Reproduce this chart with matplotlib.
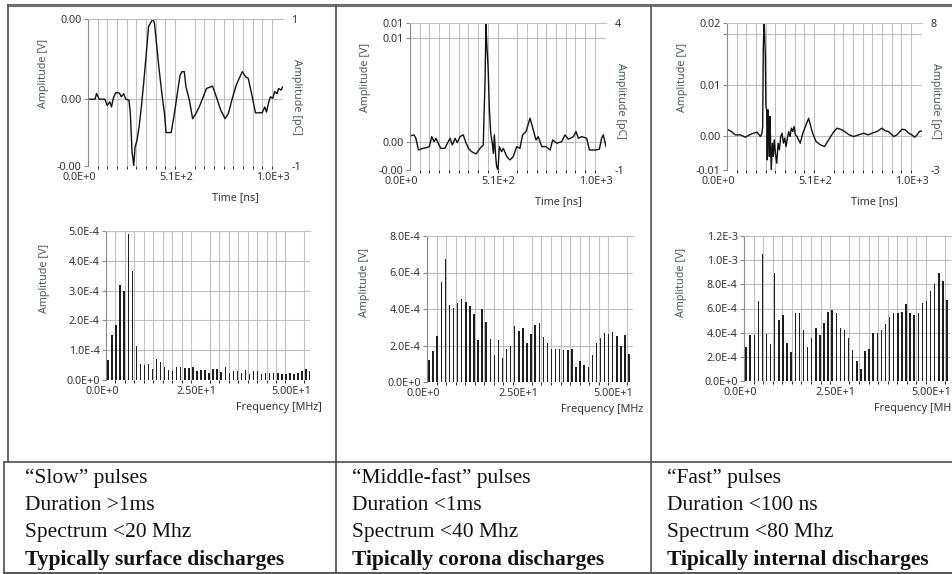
import numpy as np
import matplotlib
matplotlib.use("Agg")
import matplotlib.pyplot as plt
from matplotlib.ticker import MultipleLocator, FixedLocator
from matplotlib.transforms import ScaledTranslation

# ---- time-domain traces (time in ns, amplitude in mV) ----
slow_t = [2, 37, 45, 59, 89, 101, 115, 124, 133, 146, 164, 176, 188, 199, 216, 223, 232, 241,
          248, 258, 269, 281, 293, 307, 319, 328, 342, 350, 359, 373, 391, 403, 411, 438, 455,
          473, 485, 495, 507, 516, 534, 551, 568, 586, 607, 624, 656, 673, 699, 722, 739, 760,
          781, 804, 813, 830, 844, 865, 882, 917, 931, 940, 952, 961, 973, 983, 996, 1004, 1017, 1025]
slow_mv = [0, 0, 0.21, 0, 0, -0.23, -0.10, -0.29, 0.03, 0.24, 0.24, 0.09, 0.21, 0, -0.04, -0.54,
           -1.98, -2.48, -1.79, -1.54, -1.04, -0.29, 0.59, 1.71, 2.71, 2.84, 3.0, 2.84, 2.21, 1.21,
           0.09, -0.54, -1.25, -1.25, -0.54, 0.34, 0.9, 1.03, 1.03, 0.46, -0.04, -0.73, -0.54, -0.29,
           0.09, 0.4, 0.49, 0.15, -0.41, -0.73, -0.54, 0.03, 0.53, 0.9, 1.03, 0.84, 0.78, 0.09, -0.51,
           -0.51, -0.29, -0.48, -0.1, 0.09, 0.03, 0.28, 0.21, 0.4, 0.34, 0.46]

mid_t = [3, 21, 31, 44, 66, 87, 101, 114, 126, 136, 148, 161, 183, 196, 210, 222, 236, 248, 262,
         279, 293, 306, 323, 346, 367, 384, 388, 393, 398, 402, 409, 416, 423, 431, 437, 442, 449,
         454, 461, 468, 480, 489, 507, 524, 541, 559, 576, 590, 608, 629, 646, 660, 672, 690, 713,
         734, 748, 769, 795, 812, 830, 856, 870, 882, 899, 926, 940, 969, 992, 1004, 1013, 1027]
mid_mv = [0.55, 0.65, 0.32, -0.81, -0.65, -0.58, -0.48, 0.48, 0, 0.32, -0.16, -0.65, -0.65, -0.16,
          0.32, -0.32, 0.32, -0.1, 0.48, 0.65, -0.1, -0.65, -0.97, -1.19, -0.65, -0.32, 2.58, 5.65,
          11.45, 9.52, 7.26, 3.06, 0.81, -0.16, -1.13, 0.65, -1.45, -2.42, -2.74, -0.48, -0.97,
          -0.65, -1.45, -1.77, -1.45, -0.48, -0.65, 0.65, 0.97, 2.26, 1.13, 0.16, 0.48, -0.48, -0.48,
          -0.81, 0.16, -0.16, 0, 0.65, 0.23, 0.48, 0.97, 0.32, 0.48, 0.32, -0.81, -0.81, -0.74, 0.32,
          0.65, -0.48]

fast_t = [0, 23, 44, 70, 97, 118, 140, 158, 176, 184, 188, 191, 195, 198, 202, 205, 209, 212, 216,
          219, 223, 226, 230, 233, 239, 244, 249, 255, 262, 269, 276, 283, 290, 297, 304, 311, 318,
          325, 332, 339, 346, 353, 360, 369, 377, 386, 399, 413, 430, 439, 451, 469, 492, 514, 535,
          557, 579, 606, 632, 644, 667, 693, 720, 743, 764, 790, 816, 834, 851, 878, 895, 922, 939,
          957, 974, 988, 1001, 1013, 1027]
fast_mv = [1.25, 0.79, 0.13, 0.13, -0.33, 0.13, 0.46, 0.66, -0.2, 0.46, 1.78, 16.9, 22.8, 20.2,
           15.6, 5.72, 5.07, -4.8, 5.07, 2.43, -4.14, 3.75, -2.17, -6.78, -1.51, -4.14, -0.86, -3.49,
           -5.46, -1.51, -2.83, -0.2, 0.46, -1.51, -0.53, -2.17, -0.53, 0.79, -0.2, 1.45, 0.79, 1.78,
           0.13, -0.2, -0.86, -1.51, 0.46, 1.78, 3.42, 2.1, 0.46, -1.18, -1.84, -2.17, -0.86, 0.46,
           1.45, 1.12, 0.46, 0.13, -0.2, 0.13, 0.46, 0.13, 0.46, 0.79, 1.45, 0.92, 0.79, -0.2, 0.13,
           1.25, 1.12, 0.46, 0.13, -0.33, 0.13, 0.79, 0.92]

# ---- spectra (amplitude in 1e-4 V, one bar per frequency bin) ----
slow_spec = [0.66, 1.5, 1.85, 3.2, 3.0, 4.9, 3.65, 1.15, 0.55, 0.5, 0.53, 0.37, 0.7, 0.6, 0.45,
             0.35, 0.3, 0.45, 0.45, 0.4, 0.4, 0.45, 0.3, 0.35, 0.35, 0.23, 0.38, 0.38, 0.27, 0.42,
             0.23, 0.3, 0.3, 0.23, 0.35, 0.2, 0.3, 0.3, 0.2, 0.25, 0.22, 0.22, 0.25, 0.2, 0.2, 0.23,
             0.2, 0.23, 0.3, 0.38, 0.3]
mid_spec = [1.19, 1.68, 2.52, 5.48, 6.72, 4.24, 4.07, 4.35, 4.53, 4.4, 4.16, 3.74, 2.28, 4.02, 3.29,
            2.37, 1.5, 2.32, 1.32, 1.83, 2.0, 3.07, 2.78, 2.98, 2.14, 2.65, 3.1, 3.25, 2.47, 2.14,
            1.79, 1.81, 1.81, 1.74, 1.74, 1.81, 0.82, 1.15, 0.91, 0.8, 1.46, 2.16, 2.41, 2.7, 2.65,
            2.74, 2.52, 1.97, 2.6, 1.55]
fast_spec = [2.81, 3.78, 3.83, 6.59, 10.5, 3.92, 3.09, 8.97, 5.02, 5.43, 3.17, 2.4, 5.66, 5.66, 4.25,
             2.81, 3.59, 4.39, 3.83, 4.8, 5.71, 5.9, 5.63, 4.41, 4.19, 3.59, 2.54, 1.63, 1.02, 2.46,
             2.62, 3.97, 4.0, 4.25, 4.74, 5.3, 5.66, 5.63, 5.71, 6.34, 5.63, 5.43, 5.66, 6.48, 6.59,
             7.42, 8.06, 8.97, 8.25, 6.68]
bin_mhz = 1.07

time_ticks = [0, 510, 1020]
time_ticklabels = ["0.0E+0", "5.1E+2", "1.0E+3"]
freq_ticks = [0, 25, 50]
freq_ticklabels = ["0.0E+0", "2.50E+1", "5.00E+1"]

# y ranges of the time plots (mV) and of the charge axis (pC)
time_ylims = [(-2.5, 3.0), (-2.74, 11.45), (-6.8, 22.2)]
time_grid = [[0], [0, 10], [0, 10, 20]]
pc_lims = [(-1, 1), (-1, 4), (-3, 8)]
spec_ylims = [5, 8, 12]
spec_steps = [1, 2, 2]

column_texts = [
    ["\u201cSlow\u201d pulses", "Duration >1ms", "Spectrum <20 Mhz", "Typically surface discharges"],
    ["\u201cMiddle-fast\u201d pulses", "Duration <1ms", "Spectrum <40 Mhz", "Tipically corona discharges"],
    ["\u201cFast\u201d pulses", "Duration <100 ns", "Spectrum <80 Mhz", "Tipically internal discharges"],
]
freq_labels = ["Frequency [MHz]", "Frequency [MHz", "Frequency [MH"]

W, H = 953, 574
GRID = "#c0c0c0"
TXT = "#333333"
LAB = "#4b5a60"
plt.rcParams["font.family"] = ["Noto Sans", "DejaVu Sans"]

fig = plt.figure(figsize=(W / 100, H / 100), dpi=100)

# table frame drawn in pixel coordinates
frame = fig.add_axes([0, 0, 1, 1])
frame.set_xlim(0, W)
frame.set_ylim(H, 0)
frame.axis("off")
lc = "#5a5a5a"
frame.plot([8, W], [5, 5], color="#707070", lw=2.2)
frame.plot([8, 8], [5, 462], color=lc, lw=1.3)
frame.plot([4, 4], [462, 573], color=lc, lw=1.3)
frame.plot([4, W], [462, 462], color=lc, lw=1.3)
frame.plot([4, W], [572.5, 572.5], color=lc, lw=1.5)
for xc in (336, 651):
    frame.plot([xc, xc], [5, 573], color=lc, lw=1.3)

text_x = [25, 352, 667]
row_y = [478, 505, 532, 560]
for cx, rows in zip(text_x, column_texts):
    for i, (ry, s) in enumerate(zip(row_y, rows)):
        frame.text(cx, ry, s, family="Liberation Serif", fontsize=15.5, va="center", ha="left",
                   color="#111111", fontweight="bold" if i == 3 else "normal")


def px_axes(l, t, r, b):
    return fig.add_axes([l / W, 1 - b / H, (r - l) / W, (b - t) / H])


def sci(v, d=1):
    if v == 0:
        return f"{0:.{d}f}E+0"
    e = int(np.floor(np.log10(abs(v)) + 1e-9))
    return f"{v / 10 ** e:.{d}f}E{e:+d}"


def shift_xlabels(ax, dx_px):
    off = ScaledTranslation(dx_px / 100, 0, fig.dpi_scale_trans)
    for lab in ax.get_xticklabels():
        lab.set_transform(lab.get_transform() + off)


def base_style(ax):
    for s in ("right", "bottom"):
        ax.spines[s].set_visible(False)
    ax.spines["top"].set_color(GRID)
    ax.spines["left"].set_color("#8a8a8a")
    ax.tick_params(axis="y", length=3, width=0.8, color="#8a8a8a", labelsize=7.8, labelcolor=TXT, pad=1.5)
    ax.tick_params(axis="x", length=0, labelsize=7.8, labelcolor=TXT, pad=4)
    ax.grid(True, which="minor", axis="x", color=GRID, lw=0.8)
    ax.set_axisbelow(True)


time_boxes = [(88, 19, 283, 166), (410, 23, 606, 170), (727, 23, 922, 170)]
traces = [(slow_t, slow_mv), (mid_t, mid_mv), (fast_t, fast_mv)]
for k, (box, (tt, vv)) in enumerate(zip(time_boxes, traces)):
    ax = px_axes(*box)
    base_style(ax)
    ax.plot(tt, np.array(vv) / 1000, color="#111111", lw=1.0)
    lo, hi = time_ylims[k]
    ax.set_xlim(0, 1027)
    ax.set_ylim(lo / 1000, hi / 1000)
    ax.set_xticks(time_ticks)
    ax.set_xticklabels(time_ticklabels)
    ax.xaxis.set_minor_locator(MultipleLocator(51))
    yt = sorted(set([lo] + time_grid[k] + [hi]))
    if k == 2:
        yt = [lo, 0, 10, hi]
        ax.yaxis.set_minor_locator(FixedLocator([0.02]))
        ax.tick_params(axis="y", which="minor", length=3, width=0.8, color="#8a8a8a")
        ax.grid(True, which="minor", axis="y", color=GRID, lw=0.8)
    ax.set_yticks([v / 1000 for v in yt])
    ax.set_yticklabels([f"{v / 1000:.2f}" for v in yt])
    for v in time_grid[k]:
        ax.axhline(v / 1000, color=GRID, lw=0.8, zorder=0)
    shift_xlabels(ax, -9)
    ax.set_ylabel("Amplitude [V]", fontsize=7.8, color=LAB)
    ax.yaxis.set_label_coords(-0.2, 0.63)
    ax.set_xlabel("Time [ns]", fontsize=7.8, color=TXT)
    ax.xaxis.set_label_coords(0.755, -0.18)

    ax2 = ax.twinx()
    ax2.set_ylim(*pc_lims[k])
    ax2.set_yticks(list(pc_lims[k]))
    ax2.set_yticklabels([str(v) for v in pc_lims[k]])
    for s in ax2.spines.values():
        s.set_visible(False)
    ax2.tick_params(axis="y", length=0, labelsize=7.8, labelcolor=TXT, pad=6)
    ax2.set_ylabel("Amplitude [pC]", fontsize=7.8, color=LAB, rotation=-90)
    ax2.yaxis.set_label_coords(1.1, 0.47)

spec_boxes = [(106, 231, 310, 380), (427, 236, 633, 382), (744, 236, 951, 381)]
spectra = [slow_spec, mid_spec, fast_spec]
flabel_x = [1.06, 1.05, 1.0]
for k, (box, amp) in enumerate(zip(spec_boxes, spectra)):
    ax = px_axes(*box)
    base_style(ax)
    freqs = bin_mhz * (np.arange(len(amp)) + 0.5)
    ax.bar(freqs, np.array(amp) * 1e-4, width=0.38, color="#1e1e1e", zorder=3)
    ax.set_xlim(0, 54)
    top = spec_ylims[k] * 1e-4
    ax.set_ylim(0, top)
    ax.set_xticks(freq_ticks)
    ax.set_xticklabels(freq_ticklabels)
    ax.xaxis.set_minor_locator(MultipleLocator(2.5))
    shift_xlabels(ax, -4)
    yt = np.arange(0, spec_ylims[k] + 0.01, spec_steps[k]) * 1e-4
    ax.set_yticks(yt)
    ax.set_yticklabels([sci(v) for v in yt])
    ax.grid(True, which="major", axis="y", color=GRID, lw=0.8)
    ax.set_ylabel("Amplitude [V]", fontsize=7.8, color=LAB)
    ax.yaxis.set_label_coords(-0.275, 0.68)
    ax.set_xlabel(freq_labels[k], fontsize=7.8, color=TXT, ha="right")
    ax.xaxis.set_label_coords(flabel_x[k], -0.15)

fig.savefig("out.png", dpi=100)
